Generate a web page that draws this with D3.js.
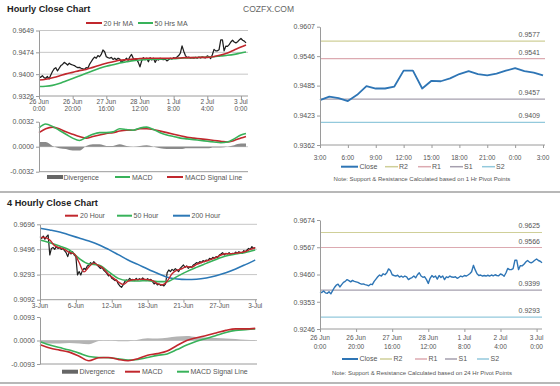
<!DOCTYPE html>
<html><head><meta charset="utf-8">
<script src="https://cdn.jsdelivr.net/npm/d3@7"></script>
<style>
body{margin:0;background:#fff}
svg{display:block}
text{font-family:"Liberation Sans",Arial,sans-serif}
</style>
</head><body>
<script>
// ---------------- DATA ----------------
// Hourly chart (trading-hour index 0..123, 26 Jun 0:00 -> 3 Jul 3:00)
const hourlyTickIdx = [0,20,40,60,80,100,120];
const hourlyTickDates = ["26 Jun","26 Jun","27 Jun","28 Jun","1 Jul","2 Jul","3 Jul"];
const hourlyTickTimes = ["0:00","20:00","16:00","12:00","8:00","4:00","0:00"];
const hourlyYTicks = [0.9326,0.9400,0.9474,0.9548];
const hourlyYLabels = ["0.9326","0.9400","0.9474","0.9649"];
const hourlyClose = [
0.9392,0.9389,0.9395,0.9388,0.9386,0.9392,0.9384,0.9397,0.9409,0.9418,
0.9422,0.9411,0.9420,0.9429,0.9433,0.9440,0.9436,0.9431,0.9437,0.9433,
0.9431,0.9429,0.9425,0.9422,0.9423,0.9420,0.9418,0.9416,0.9422,0.9420,
0.9433,0.9442,0.9451,0.9458,0.9454,0.9463,0.9459,0.9467,0.9482,0.9476,
0.9459,0.9456,0.9454,0.9457,0.9450,0.9454,0.9449,0.9454,0.9451,0.9440,
0.9445,0.9448,0.9454,0.9447,0.9459,0.9467,0.9454,0.9449,0.9451,0.9440,
0.9425,0.9445,0.9456,0.9449,0.9454,0.9442,0.9456,0.9448,0.9454,0.9440,
0.9451,0.9448,0.9454,0.9450,0.9449,0.9451,0.9445,0.9449,0.9454,0.9451,
0.9456,0.9454,0.9458,0.9463,0.9471,0.9496,0.9478,0.9463,0.9456,0.9458,
0.9454,0.9456,0.9454,0.9457,0.9454,0.9458,0.9455,0.9459,0.9456,0.9455,
0.9462,0.9459,0.9453,0.9466,0.9484,0.9479,0.9479,0.9483,0.9516,0.9516,
0.9479,0.9495,0.9494,0.9500,0.9509,0.9515,0.9509,0.9506,0.9510,0.9516,
0.9521,0.9515,0.9512,0.9506];
const hourlyMaIdx = [0,4,8,12,16,20,24,28,32,36,40,44,48,52,56,60,64,68,72,76,80,84,88,92,96,100,104,108,112,116,120,123];
const hourlyMa20 = [0.9380,0.9383,0.9388,0.9394,0.9401,0.9406,0.9412,0.9416,0.9423,0.9430,0.9437,0.9442,0.9447,0.9449,0.9451,0.9453,0.9454,0.9454,0.9454,0.9454,0.9454,0.9455,0.9456,0.9456,0.9457,0.9457,0.9460,0.9465,0.9472,0.9482,0.9492,0.9499];
const hourlyMa50 = [0.9358,0.9359,0.9362,0.9368,0.9377,0.9385,0.9394,0.9403,0.9412,0.9420,0.9427,0.9432,0.9438,0.9442,0.9446,0.9448,0.9450,0.9451,0.9451,0.9452,0.9452,0.9454,0.9455,0.9456,0.9457,0.9458,0.9459,0.9462,0.9464,0.9467,0.9472,0.9475];
const hourlyMacdTicks = [-0.0032,0,0.0032];
const hourlyMacdLabels = ["-0.0032","0.0000","0.0032"];
const hourlyMacd = [0.0024,0.0029,0.0026,0.0021,0.0016,0.0011,0.0008,0.0012,0.0016,0.0018,0.0018,0.0019,0.0023,0.0022,0.0021,0.0024,0.0025,0.0022,0.0018,0.0015,0.0013,0.0011,0.0010,0.0009,0.0008,0.0007,0.0006,0.0005,0.0006,0.0010,0.0015,0.0017];
const hourlySignal = [0.0018,0.0023,0.0025,0.0023,0.0019,0.0016,0.0013,0.0011,0.0013,0.0015,0.0017,0.0018,0.0020,0.0021,0.0021,0.0023,0.0023,0.0022,0.0020,0.0018,0.0016,0.0014,0.0012,0.0011,0.0010,0.0009,0.0008,0.0007,0.0006,0.0008,0.0011,0.0013];
const hourlyDiv = [0.0006,0.0006,0.0001,-0.0002,-0.0003,-0.0005,-0.0005,0.0001,0.0003,0.0003,0.0001,0.0001,0.0003,0.0001,0.0000,0.0001,0.0002,0.0000,-0.0002,-0.0003,-0.0003,-0.0003,-0.0002,-0.0002,-0.0002,-0.0002,-0.0001,-0.0001,0.0000,0.0002,0.0004,0.0004];

// Last 24 hours (1 Hr pivots)
const dayTickLabels = ["3:00","6:00","9:00","12:00","15:00","18:00","21:00","0:00","3:00"];
const dayYTicks = [0.9362,0.9423,0.9485,0.9546,0.9607];
const dayClose = hourlyClose.slice(99);
const pivotNames = ["R2","R1","S1","S2"];
const pivotColors = ["#cfcf98","#dcaab1","#a59fae","#93c9dc"];
const pivots1h = [0.9577,0.9541,0.9457,0.9409];
const pivots24h = [0.9625,0.9566,0.9399,0.9293];
const pivot24YTicks = [0.9246,0.9353,0.9460,0.9567,0.9674];

// 4 hourly chart (bar index 0..132)
const fourTickIdx = [0,22,44,66,88,110,132];
const fourTickLabels = ["3-Jun","6-Jun","12-Jun","18-Jun","21-Jun","27-Jun","3-Jul"];
const fourYTicks = [0.9092,0.9293,0.9496,0.9696];
const fourClose = [
0.9597,0.9584,0.9602,0.9576,0.9597,0.9610,0.9450,0.9503,0.9511,0.9495,
0.9517,0.9503,0.9511,0.9495,0.9503,0.9485,0.9469,0.9437,0.9477,0.9458,
0.9477,0.9450,0.9437,0.9290,0.9317,0.9290,0.9325,0.9343,0.9335,0.9362,
0.9370,0.9389,0.9378,0.9397,0.9383,0.9370,0.9357,0.9343,0.9351,0.9330,
0.9317,0.9303,0.9282,0.9290,0.9263,0.9255,0.9245,0.9250,0.9218,0.9202,
0.9191,0.9210,0.9237,0.9250,0.9245,0.9263,0.9250,0.9255,0.9245,0.9263,
0.9250,0.9260,0.9250,0.9266,0.9255,0.9245,0.9260,0.9250,0.9255,0.9237,
0.9218,0.9229,0.9210,0.9218,0.9207,0.9212,0.9202,0.9218,0.9309,0.9330,
0.9317,0.9335,0.9325,0.9341,0.9330,0.9317,0.9343,0.9357,0.9370,0.9351,
0.9362,0.9343,0.9357,0.9351,0.9370,0.9378,0.9389,0.9383,0.9397,0.9389,
0.9405,0.9397,0.9410,0.9405,0.9423,0.9415,0.9431,0.9423,0.9437,0.9429,
0.9450,0.9458,0.9469,0.9450,0.9463,0.9458,0.9469,0.9453,0.9463,0.9458,
0.9474,0.9463,0.9477,0.9469,0.9463,0.9485,0.9477,0.9490,0.9503,0.9495,
0.9517,0.9503,0.9511];
const fourMa20Idx = [0,3,6,9,12,15,18,21,24,27,30,33,36,39,42,45,48,51,54,57,60,63,66,69,72,75,78,81,84,87,90,93,96,99,102,105,108,111,114,117,120,123,126,129,132];
const fourMa20 = [0.9590,0.9590,0.9570,0.9525,0.9508,0.9495,0.9470,0.9460,0.9390,0.9315,0.9355,0.9385,0.9365,0.9340,0.9295,0.9265,0.9235,0.9215,0.9240,0.9252,0.9253,0.9256,0.9253,0.9245,0.9220,0.9212,0.9240,0.9300,0.9328,0.9340,0.9358,0.9352,0.9375,0.9390,0.9402,0.9415,0.9430,0.9450,0.9460,0.9460,0.9465,0.9470,0.9478,0.9495,0.9508];
const fourIdx6 = [0,6,12,18,24,30,36,42,48,54,60,66,72,78,84,90,96,102,108,114,120,126,132];
const fourMa50 = [0.9570,0.9549,0.9522,0.9490,0.9423,0.9378,0.9370,0.9317,0.9263,0.9245,0.9242,0.9245,0.9237,0.9237,0.9277,0.9317,0.9351,0.9383,0.9415,0.9442,0.9458,0.9471,0.9490];
const fourMa200 = [0.9664,0.9651,0.9635,0.9610,0.9586,0.9562,0.9533,0.9495,0.9453,0.9410,0.9375,0.9338,0.9303,0.9272,0.9258,0.9254,0.9256,0.9266,0.9284,0.9308,0.9338,0.9373,0.9410];
const fourMacdTicks = [-0.0093,0,0.0093];
const fourMacdLabels = ["-0.0093","0.0000","0.0093"];
const fourMacd = [-0.0017,-0.0030,-0.0038,-0.0046,-0.0062,-0.0080,-0.0068,-0.0067,-0.0075,-0.0080,-0.0072,-0.0058,-0.0052,-0.0042,-0.0020,0.0000,0.0011,0.0020,0.0030,0.0040,0.0046,0.0046,0.0048];
const fourSignal = [-0.0005,-0.0018,-0.0028,-0.0038,-0.0050,-0.0063,-0.0067,-0.0068,-0.0072,-0.0077,-0.0075,-0.0067,-0.0059,-0.0053,-0.0036,-0.0018,-0.0003,0.0008,0.0020,0.0032,0.0040,0.0043,0.0046];
const fourDiv = [-0.0010,-0.0012,-0.0012,-0.0010,-0.0012,-0.0015,-0.0002,0.0001,-0.0003,-0.0003,0.0003,0.0009,0.0008,0.0011,0.0016,0.0018,0.0014,0.0012,0.0010,0.0008,0.0006,0.0003,0.0002];

// ---------------- STYLE ----------------
const RED = "#c1272d", GREEN = "#38b25a", BLUE = "#2c78b6", CLOSEBLUE = "#2e75b5";
const AXIS = "#9a9a9a", GRID = "#c6c6c6", LBL = "#555";

const svg = d3.select("body").append("svg").attr("width",560).attr("height",386);

function T(x,y,s,size,anchor,fill,weight){
  return svg.append("text").attr("x",x).attr("y",y).attr("font-size",size)
    .attr("text-anchor",anchor||"start").attr("fill",fill||LBL)
    .attr("font-weight",weight||"normal").text(s);
}
function seg(x1,x2,y,color,w){
  svg.append("line").attr("x1",x1).attr("x2",x2).attr("y1",y).attr("y2",y)
    .attr("stroke",color).attr("stroke-width",w||2);
}
function series(xs,vals,x,y,color,w,curve){
  const ln = d3.line().x((d,i)=>x(xs[i])).y(d=>y(d)).curve(curve||d3.curveLinear);
  svg.append("path").datum(vals).attr("d",ln).attr("fill","none")
    .attr("stroke",color).attr("stroke-width",w).attr("stroke-linejoin","round");
}
function divArea(xs,vals,x,y,color){
  const ar = d3.area().x((d,i)=>x(xs[i])).y0(y(0)).y1(d=>y(d)).curve(d3.curveMonotoneX);
  svg.append("path").datum(vals).attr("d",ar).attr("fill",color).attr("stroke","none");
}
function leftAxis(x0,y,ticks,labels){
  const g = svg.append("g").attr("transform",`translate(${x0},0)`)
    .call(d3.axisLeft(y).tickValues(ticks).tickFormat((d,i)=>labels[i]).tickSize(3).tickSizeOuter(0).tickPadding(2));
  g.select(".domain").attr("stroke",AXIS);
  g.selectAll(".tick line").attr("stroke",AXIS);
  g.selectAll("text").attr("font-size",7).attr("fill",LBL).attr("font-family",'"Liberation Sans",Arial,sans-serif');
}
function bottomAxis(y0,x,ticks,x1,x2){
  const g = svg.append("g").attr("transform",`translate(0,${y0})`)
    .call(d3.axisBottom(x).tickValues(ticks).tickFormat("").tickSize(3).tickSizeOuter(0));
  g.select(".domain").remove();
  g.append("line").attr("x1",x1).attr("x2",x2).attr("stroke",AXIS);
  g.selectAll(".tick line").attr("stroke",AXIS);
}
function hgrid(y,vals,x1,x2,color){
  vals.forEach(v=>svg.append("line").attr("x1",x1).attr("x2",x2).attr("y1",y(v)).attr("y2",y(v))
    .attr("stroke",color||GRID).attr("stroke-width",1));
}
function xLabels2(x,ticks,l1,l2,yb1,yb2){
  ticks.forEach((t,i)=>{ T(x(t),yb1,l1[i],6.5,"middle"); T(x(t),yb2,l2[i],6.5,"middle"); });
}

// ---------------- HEADER / SEPARATORS ----------------
T(7,12.3,"Hourly Close Chart",9.2,"start","#222","bold");
T(243,12,"COZFX.COM",8.5,"start","#666");
svg.append("line").attr("x1",0).attr("x2",560).attr("y1",192).attr("y2",192).attr("stroke","#b8b8b8").attr("stroke-width",2);
svg.append("line").attr("x1",0).attr("x2",560).attr("y1",383).attr("y2",383).attr("stroke","#b8b8b8").attr("stroke-width",2);

// ---------------- PANEL A: hourly price ----------------
const xA = d3.scaleLinear().domain([0,123]).range([39,246]);
const yA = d3.scaleLinear().domain([0.9326,0.9548]).range([96,30.5]);
hgrid(yA,hourlyYTicks.slice(1),39,248);
series(d3.range(hourlyClose.length),hourlyClose,xA,yA,"#1e1e1e",1.25);
series(hourlyMaIdx,hourlyMa50,xA,yA,GREEN,1.6,d3.curveMonotoneX);
series(hourlyMaIdx,hourlyMa20,xA,yA,RED,1.6,d3.curveMonotoneX);
leftAxis(39,yA,hourlyYTicks,hourlyYLabels);
bottomAxis(96,xA,hourlyTickIdx,39,248);
xLabels2(xA,hourlyTickIdx,hourlyTickDates,hourlyTickTimes,103.5,111.3);
seg(86,102,23,RED); T(103.5,25.5,"20 Hr MA",7);
seg(138,153,23,GREEN); T(154.5,25.5,"50 Hrs MA",7);

// ---------------- PANEL B: hourly MACD ----------------
const yB = d3.scaleLinear().domain([-0.0032,0.0032]).range([171.7,121.7]);
svg.append("line").attr("x1",39).attr("x2",248).attr("y1",yB(0)).attr("y2",yB(0)).attr("stroke","#cfcfcf");
svg.append("line").attr("x1",39).attr("x2",248).attr("y1",yB(-0.0032)).attr("y2",yB(-0.0032)).attr("stroke",AXIS);
divArea(hourlyMaIdx,hourlyDiv,xA,yB,"#8a8a8a");
series(hourlyMaIdx,hourlySignal,xA,yB,RED,1.6,d3.curveMonotoneX);
series(hourlyMaIdx,hourlyMacd,xA,yB,GREEN,1.6,d3.curveMonotoneX);
leftAxis(39,yB,hourlyMacdTicks,hourlyMacdLabels);
svg.append("rect").attr("x",47).attr("y",175).attr("width",16).attr("height",4).attr("fill","#666");
T(63.5,179.5,"Divergence",7);
seg(115,130,177,GREEN); T(132,179.5,"MACD",7);
seg(167,183,177,RED); T(185,179.5,"MACD Signal Line",7);

// ---------------- PANEL C: last 24h with 1h pivots ----------------
const xC = d3.scaleLinear().domain([0,24]).range([320,543]);
const yC = d3.scaleLinear().domain([0.9362,0.9607]).range([145,26.7]);
pivots1h.forEach((p,i)=>{
  svg.append("line").attr("x1",320).attr("x2",545).attr("y1",yC(p)).attr("y2",yC(p)).attr("stroke",pivotColors[i]).attr("stroke-width",1.2);
  T(540,yC(p)-4,p.toFixed(4),7,"end");
});
series(d3.range(dayClose.length),dayClose,xC,yC,CLOSEBLUE,1.8);
leftAxis(320,yC,dayYTicks,dayYTicks.map(d=>d.toFixed(4)));
bottomAxis(145,xC,d3.range(0,25,3),320,545);
dayTickLabels.forEach((s,i)=>T(xC(i*3),159.5,s,6.5,"middle"));
seg(341,358,166.7,CLOSEBLUE); T(359.5,169,"Close",7);
pivotNames.forEach((n,i)=>{
  const lx=[385,418,450,482][i];
  seg(lx,lx+13,166.7,pivotColors[i],1.5); T(lx+14,169,n,7);
});
T(422,181.3,"Note: Support & Resistance Calculated based on 1 Hr Pivot Points",6,"middle");

// ---------------- PANEL D: 4 hourly price ----------------
T(7,205.6,"4 Hourly Close Chart",9.2,"start","#222","bold");
const xD = d3.scaleLinear().domain([0,132]).range([40,255.2]);
const yD = d3.scaleLinear().domain([0.9092,0.9696]).range([299.7,224.3]);
hgrid(yD,fourYTicks.slice(1),40,257);
series(d3.range(fourClose.length),fourClose,xD,yD,"#1e1e1e",1.2);
series(fourIdx6,fourMa200,xD,yD,BLUE,1.6,d3.curveMonotoneX);
series(fourIdx6,fourMa50,xD,yD,GREEN,1.6,d3.curveMonotoneX);
series(fourMa20Idx,fourMa20,xD,yD,RED,1.4,d3.curveMonotoneX);
leftAxis(40,yD,fourYTicks,fourYTicks.map(d=>d.toFixed(4)));
bottomAxis(299.7,xD,fourTickIdx,40,257);
fourTickLabels.forEach((s,i)=>T(xD(fourTickIdx[i]),308,s,6.5,"middle"));
seg(65,78,215.7,RED); T(80,218,"20 Hour",7);
seg(117,132,215.7,GREEN); T(133.5,218,"50 Hour",7);
seg(173,190,215.7,BLUE); T(191.5,218,"200 Hour",7);

// ---------------- PANEL D2: 4 hourly MACD ----------------
const yD2 = d3.scaleLinear().domain([-0.0093,0.0093]).range([364,317]);
svg.append("line").attr("x1",40).attr("x2",257).attr("y1",yD2(0)).attr("y2",yD2(0)).attr("stroke","#c8c8c8");
svg.append("line").attr("x1",40).attr("x2",257).attr("y1",yD2(-0.0093)).attr("y2",yD2(-0.0093)).attr("stroke",AXIS);
divArea(fourIdx6,fourDiv,xD,yD2,"#b4b4b4");
series(fourIdx6,fourSignal,xD,yD2,GREEN,1.6,d3.curveMonotoneX);
series(fourIdx6,fourMacd,xD,yD2,RED,1.6,d3.curveMonotoneX);
leftAxis(40,yD2,fourMacdTicks,fourMacdLabels);
svg.append("rect").attr("x",62).attr("y",369.7).attr("width",16).attr("height",4).attr("fill","#666");
T(79.5,374,"Divergence",7);
seg(125,140,371.7,RED); T(142,374,"MACD",7);
seg(177,189,371.7,GREEN); T(190.5,374,"MACD Signal Line",7);

// ---------------- PANEL E: hourly with 24h pivots ----------------
const xE = d3.scaleLinear().domain([0,123]).range([320,542]);
const yE = d3.scaleLinear().domain([0.9246,0.9674]).range([329,220]);
pivots24h.forEach((p,i)=>{
  svg.append("line").attr("x1",320).attr("x2",542).attr("y1",yE(p)).attr("y2",yE(p)).attr("stroke",pivotColors[i]).attr("stroke-width",1.2);
  T(540,yE(p)-4,p.toFixed(4),7,"end");
});
series(d3.range(hourlyClose.length),hourlyClose,xE,yE,CLOSEBLUE,1.4);
leftAxis(320,yE,pivot24YTicks,pivot24YTicks.map(d=>d.toFixed(4)));
bottomAxis(329,xE,hourlyTickIdx,320,542);
xLabels2(xE,hourlyTickIdx,hourlyTickDates,hourlyTickTimes,340,349);
seg(342,358,359,CLOSEBLUE); T(359.5,361.3,"Close",7);
pivotNames.forEach((n,i)=>{
  const lx=[380,415,445,477][i];
  seg(lx,lx+12,359,pivotColors[i],1.5); T(lx+13.5,361.3,n,7);
});
T(422,374.7,"Note: Support & Resistance Calculated based on 24 Hr Pivot Points",6,"middle");
</script>
</body></html>
